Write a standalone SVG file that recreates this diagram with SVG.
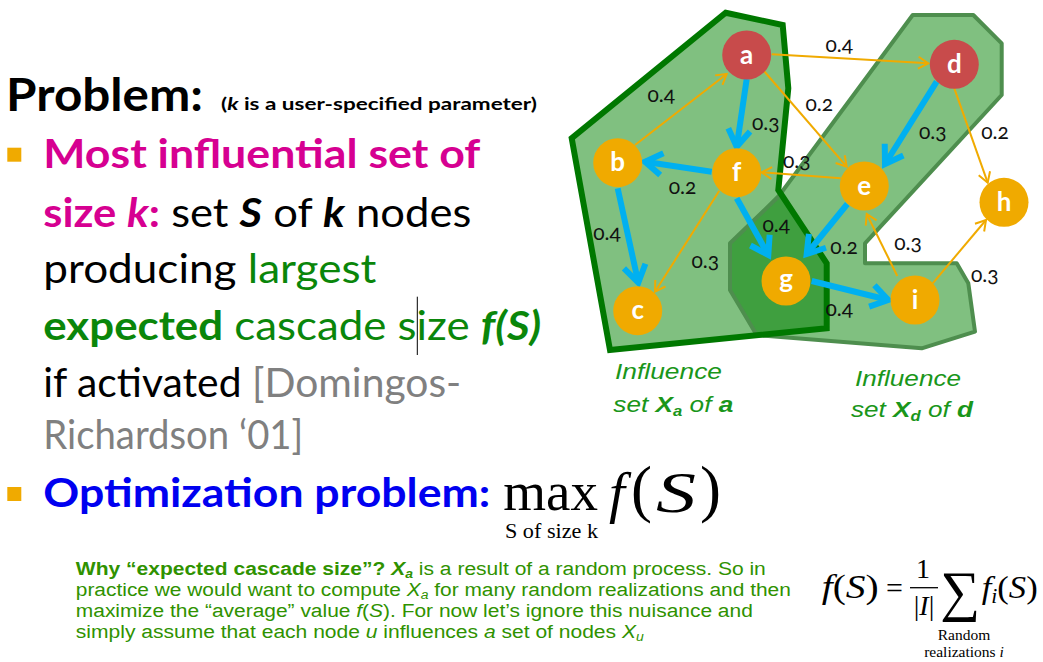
<svg xmlns="http://www.w3.org/2000/svg" width="1043" height="662" viewBox="0 0 1043 662">
<defs>
<style>
.cal{font-family:Lato,"Liberation Sans",sans-serif}
.b{font-weight:700}
.it{font-style:italic}
.mag{fill:#D60091}
.grn{fill:#0A860A}
.gry{fill:#808080}
.blk{fill:#000}
.blu{fill:#0000F0}
.nr{fill:#C84B4B}
.no{fill:#F0AA00}
.nl{font-family:Lato,"Liberation Sans",sans-serif;font-weight:700;font-size:26px;fill:#fff;text-anchor:middle}
.el{font-family:Lato,"Liberation Sans",sans-serif;font-size:21px;fill:#111;text-anchor:middle;font-variant-numeric:oldstyle-nums}
.blue{stroke:#00B0F0;stroke-width:6;fill:none;marker-end:url(#ab)}
.org{stroke:#F0AA00;stroke-width:2;fill:none;marker-end:url(#ao)}
.infl{font-family:"Liberation Sans",Arial,sans-serif;font-style:italic;font-size:22px;fill:#1A961A}
.note{font-family:"Liberation Sans",Arial,sans-serif;font-size:18px;fill:#2F9200}
.ser{font-family:"Liberation Serif","Times New Roman",serif;fill:#000}
</style>
<marker id="ab" markerUnits="userSpaceOnUse" viewBox="-24 -16 30 32" refX="0" refY="0" markerWidth="30" markerHeight="32" orient="auto" overflow="visible">
<path d="M-17,-11 L0,0 L-17,11" fill="none" stroke="#00B0F0" stroke-width="6"/>
</marker>
<marker id="ao" markerUnits="userSpaceOnUse" viewBox="-14 -10 18 20" refX="0" refY="0" markerWidth="18" markerHeight="20" orient="auto" overflow="visible">
<path d="M-10,-6 L0,0 L-10,6" fill="none" stroke="#F0AA00" stroke-width="2"/>
</marker>
</defs>
<rect width="1043" height="662" fill="#fff"/>

<g id="sets">
<polygon id="setXa-fill" points="725.7,12.7 782.7,25 788.3,88.3 778.3,190 826.7,263.3 826.7,328.3 610,350 571.7,138.3" fill="#80C080"/>
<polygon id="setXd-fill" points="912.7,15 973.3,15 1001.7,43.3 1001.7,95 865,243.3 865,263.3 956.7,263.3 968.3,283.3 975,331.7 921.7,348.3 756.7,335 730,290 730,243.3 778.3,196.7" fill="#80C080"/>
<polygon id="overlap" points="779,193 826.7,263.3 826.7,328.3 756.7,335.3 730,290 730,243.3" fill="#3F9F3F"/>
<polygon id="setXd" points="912.7,15 973.3,15 1001.7,43.3 1001.7,95 865,243.3 865,263.3 956.7,263.3 968.3,283.3 975,331.7 921.7,348.3 756.7,335 730,290 730,243.3 778.3,196.7" fill="none" stroke="#4E8E4E" stroke-width="4" stroke-linejoin="round"/>
<polygon id="setXa" points="725.7,12.7 782.7,25 788.3,88.3 778.3,190 826.7,263.3 826.7,328.3 610,350 571.7,138.3" fill="none" stroke="#007800" stroke-width="6" stroke-linejoin="miter"/>
</g>

<g id="connectors">
<line class="blue" x1="746.7" y1="79" x2="736.7" y2="146.7"/>
<line class="blue" x1="711.7" y1="171.7" x2="645" y2="161.7"/>
<line class="blue" x1="617.7" y1="188.3" x2="638.3" y2="282.7"/>
<line class="blue" x1="736.7" y1="198.3" x2="768.3" y2="255"/>
<line class="blue" x1="936.7" y1="81.7" x2="885" y2="164"/>
<line class="blue" x1="847.3" y1="204" x2="806.7" y2="254"/>
<line class="blue" x1="811.7" y1="281" x2="888.3" y2="300"/>
<line class="org" x1="771.7" y1="54.3" x2="928.3" y2="63.3"/>
<line class="org" x1="635" y1="145" x2="726.7" y2="74"/>
<line class="org" x1="764" y1="71" x2="846.7" y2="166.7"/>
<line class="org" x1="840.7" y1="178.3" x2="761.7" y2="172.3"/>
<line class="org" x1="719.3" y1="190.7" x2="655" y2="291.7"/>
<line class="org" x1="954.3" y1="88.3" x2="987.7" y2="182.7"/>
<line class="org" x1="897.3" y1="276" x2="866.7" y2="214"/>
<line class="org" x1="932.7" y1="283.3" x2="986" y2="220"/>
<g id="edge-labels">
<text class="el" x="839.3" y="52.3">0.4</text>
<text class="el" x="661.2" y="101.7">0.4</text>
<text class="el" x="765.7" y="130">0.3</text>
<text class="el" x="819.3" y="110.7">0.2</text>
<text class="el" x="932.8" y="139.3">0.3</text>
<text class="el" x="995" y="139.3">0.2</text>
<text class="el" x="796.7" y="168.3">0.3</text>
<text class="el" x="682.5" y="194.3">0.2</text>
<text class="el" x="607" y="240">0.4</text>
<text class="el" x="705.3" y="267.7">0.3</text>
<text class="el" x="776.2" y="231.7">0.4</text>
<text class="el" x="844" y="254">0.2</text>
<text class="el" x="908" y="250">0.3</text>
<text class="el" x="984.7" y="281.7">0.3</text>
<text class="el" x="839.2" y="316">0.4</text>
</g>
</g>

<g id="node-a"><circle class="nr" cx="746.7" cy="55" r="24.5"/><text class="nl" x="746.7" y="63.5">a</text></g>
<g id="node-d"><circle class="nr" cx="954.3" cy="64.3" r="24.5"/><text class="nl" x="954.3" y="72.8">d</text></g>
<g id="node-b"><circle class="no" cx="617.7" cy="162.7" r="24.5"/><text class="nl" x="617.7" y="171.2">b</text></g>
<g id="node-f"><circle class="no" cx="736.7" cy="172.7" r="24.5"/><text class="nl" x="736.7" y="181.2">f</text></g>
<g id="node-e"><circle class="no" cx="864.3" cy="186" r="24.5"/><text class="nl" x="864.3" y="194.5">e</text></g>
<g id="node-h"><circle class="no" cx="1004" cy="202.3" r="24.5"/><text class="nl" x="1004" y="210.8">h</text></g>
<g id="node-g"><circle class="no" cx="786" cy="281" r="24.5"/><text class="nl" x="786" y="287.5">g</text></g>
<g id="node-i"><circle class="no" cx="915" cy="300" r="24.5"/><text class="nl" x="915" y="308.5">i</text></g>
<g id="node-c"><circle class="no" cx="637.7" cy="310.7" r="24.5"/><text class="nl" x="637.7" y="319.2">c</text></g>

<g id="set-labels">
<text class="infl" x="615" y="379.3" textLength="107" lengthAdjust="spacingAndGlyphs">Influence</text>
<text class="infl" x="613.3" y="411.7" textLength="120" lengthAdjust="spacingAndGlyphs">set <tspan font-weight="700">X</tspan><tspan font-weight="700" font-size="14" dy="4">a</tspan><tspan dy="-4"> of </tspan><tspan font-weight="700">a</tspan></text>
<text class="infl" x="855" y="386" textLength="106" lengthAdjust="spacingAndGlyphs">Influence</text>
<text class="infl" x="851" y="416.7" textLength="122" lengthAdjust="spacingAndGlyphs">set <tspan font-weight="700">X</tspan><tspan font-weight="700" font-size="14" dy="4">d</tspan><tspan dy="-4"> of </tspan><tspan font-weight="700">d</tspan></text>
</g>

<g id="left-text">
<text class="cal b blk" x="6" y="110.7" font-size="46" textLength="197" lengthAdjust="spacingAndGlyphs">Problem:</text>
<text class="cal b blk" x="221" y="110" font-size="17" textLength="316" lengthAdjust="spacingAndGlyphs">(<tspan class="it">k</tspan> is a user-specified parameter)</text>
<rect x="7.3" y="147.7" width="14" height="14" fill="#F0AA00"/>
<text class="cal b mag" x="43.3" y="168.3" font-size="40" textLength="437" lengthAdjust="spacingAndGlyphs">Most influential set of</text>
<text class="cal" x="43.3" y="226.7" font-size="40" textLength="428" lengthAdjust="spacingAndGlyphs"><tspan class="b mag">size </tspan><tspan class="b it mag">k</tspan><tspan class="b mag">:</tspan><tspan class="blk"> set </tspan><tspan class="b it blk">S</tspan><tspan class="blk"> of </tspan><tspan class="b it blk">k</tspan><tspan class="blk"> nodes</tspan></text>
<text class="cal" x="43.3" y="283.3" font-size="40" textLength="333" lengthAdjust="spacingAndGlyphs"><tspan class="blk">producing </tspan><tspan class="grn">largest</tspan></text>
<text class="cal grn" x="43.3" y="340" font-size="40" textLength="498" lengthAdjust="spacingAndGlyphs"><tspan class="b">expected</tspan> cascade size <tspan class="b it">f(S)</tspan></text>
<line x1="417.3" y1="296.7" x2="417.3" y2="355" stroke="#000" stroke-width="1"/>
<text class="cal" x="43.3" y="396.7" font-size="40" textLength="418" lengthAdjust="spacingAndGlyphs"><tspan class="blk">if activated </tspan><tspan class="gry">[Domingos-</tspan></text>
<text class="cal gry" x="43.3" y="449" font-size="40" textLength="260" lengthAdjust="spacingAndGlyphs">Richardson ‘01]</text>
<rect x="7.3" y="487" width="14" height="14" fill="#F0AA00"/>
<text class="cal b blu" x="43.3" y="506.7" font-size="40" textLength="447" lengthAdjust="spacingAndGlyphs">Optimization problem:</text>
</g>

<g id="max-formula">
<text class="ser" x="503.3" y="510" font-size="55">max</text>
<text class="ser it" x="609" y="511.7" font-size="57">f</text>
<text class="ser" x="631" y="510" font-size="63">(</text>
<text class="ser it" x="656" y="511.7" font-size="57" textLength="40" lengthAdjust="spacingAndGlyphs">S</text>
<text class="ser" x="700" y="510" font-size="63">)</text>
<text class="ser" x="505" y="538" font-size="20" textLength="93" lengthAdjust="spacingAndGlyphs">S of size k</text>
</g>

<g id="note">
<text class="note" x="75.8" y="575" textLength="690" lengthAdjust="spacingAndGlyphs"><tspan font-weight="700">Why “expected cascade size”? </tspan><tspan font-weight="700" font-style="italic">X</tspan><tspan font-weight="700" font-style="italic" font-size="12" dy="3">a</tspan><tspan dy="-3"> is a result of a random process. So in</tspan></text>
<text class="note" x="75.8" y="596" textLength="715" lengthAdjust="spacingAndGlyphs">practice we would want to compute <tspan font-style="italic">X</tspan><tspan font-style="italic" font-size="12" dy="3">a</tspan><tspan dy="-3"> for many random realizations and then</tspan></text>
<text class="note" x="75.8" y="617.3" textLength="677" lengthAdjust="spacingAndGlyphs">maximize the “average” value <tspan font-style="italic">f</tspan>(<tspan font-style="italic">S</tspan>). For now let’s ignore this nuisance and</text>
<text class="note" x="75.8" y="638.3" textLength="568" lengthAdjust="spacingAndGlyphs">simply assume that each node <tspan font-style="italic">u</tspan> influences <tspan font-style="italic">a</tspan> set of nodes <tspan font-style="italic">X</tspan><tspan font-style="italic" font-size="12" dy="3">u</tspan></text>
</g>

<g id="sum-formula">
<text class="ser" x="821.7" y="598.3" font-size="33" textLength="57" lengthAdjust="spacingAndGlyphs"><tspan font-style="italic">f</tspan>(<tspan font-style="italic">S</tspan>)</text>
<text class="ser" x="886" y="598.3" font-size="30">=</text>
<text class="ser" x="923" y="578" font-size="28" text-anchor="middle">1</text>
<line x1="910" y1="587.7" x2="938" y2="587.7" stroke="#000" stroke-width="1.3"/>
<text class="ser" x="924" y="615" font-size="28" text-anchor="middle">|<tspan font-style="italic">I</tspan>|</text>
<text class="ser" x="940" y="610" font-size="56">∑</text>
<text class="ser" x="981.7" y="598.3" font-size="32" textLength="56" lengthAdjust="spacingAndGlyphs"><tspan font-style="italic">f</tspan><tspan font-style="italic" font-size="20" dy="5">i</tspan><tspan dy="-5">(</tspan><tspan font-style="italic">S</tspan>)</text>
<text class="ser" x="964" y="640" font-size="15.5" text-anchor="middle">Random</text>
<text class="ser" x="964" y="657" font-size="15.5" text-anchor="middle">realizations <tspan font-style="italic">i</tspan></text>
</g>
</svg>
